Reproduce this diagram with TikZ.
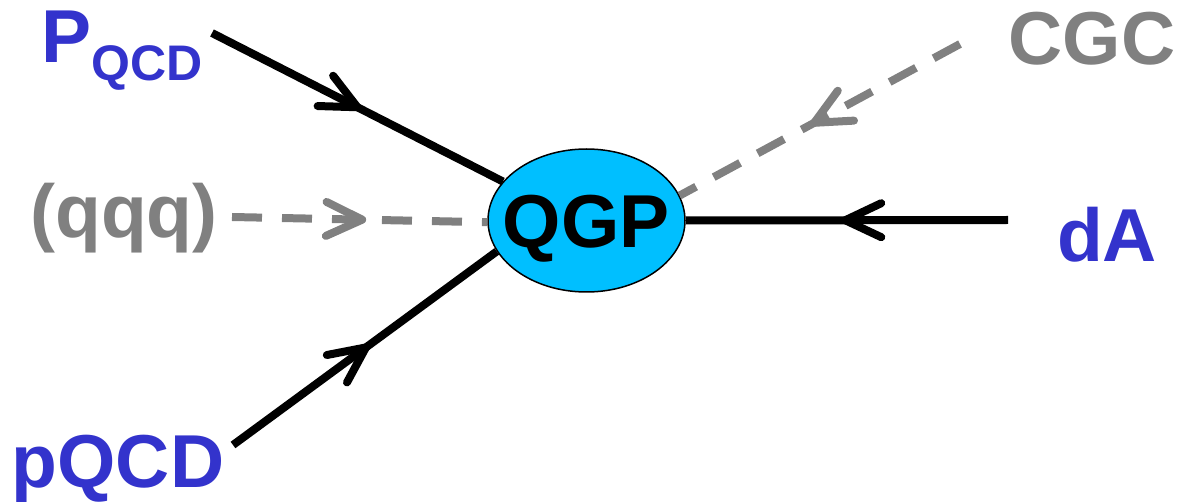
\documentclass[tikz,border=0pt]{standalone}
\usepackage{fontspec}
\setmainfont{Liberation Sans}
\usetikzlibrary{decorations.markings,shapes.geometric}
\definecolor{qblue}{RGB}{51,51,204}
\definecolor{qgray}{RGB}{128,128,128}
\definecolor{qfill}{RGB}{0,191,255}
\begin{document}
\begin{tikzpicture}[x=1pt,y=-1pt,
  lbl/.style={font=\fontsize{75}{80}\selectfont\bfseries, inner sep=0pt, anchor=base},
  conn/.style={line width=8pt},
  dashconn/.style={conn, qgray, dash pattern=on 30pt off 20pt},
  barb/.style={postaction={decorate}, decoration={markings, mark=at position #1 with {\draw[solid, line cap=round, line join=round] (-36pt,17pt) -- (0pt,0pt) -- (-36pt,-17pt);}}}
]
\useasboundingbox (0,0) rectangle (1178,502);

\node[ellipse, draw=black, line width=1.5pt, fill=qfill, minimum width=197pt, minimum height=143pt, inner sep=0pt] (qgp) at (586.5,220.5) {};
\node[lbl] (qgptext) at (586,248) {QGP};

\coordinate (sP) at (212,33);
\coordinate (sC) at (960,44);
\coordinate (sQ) at (232,217);
\coordinate (sD) at (1008,220);
\coordinate (sp) at (233,445);

\draw[conn, barb=0.5] (sP) -- (qgp.155.5);
\draw[conn, barb=0.504] (sp) -- (qgp.199.6);
\draw[conn, barb=0.505] (sD) -- (qgp.east);
\draw[dashconn, barb=0.51] (sQ) -- (qgp.181);
\draw[dashconn, barb=0.52] (sC) -- (qgp.15.5);

\node[lbl, anchor=base west, text=qblue] (pqcdtop) at (41,63) {P\raisebox{-18pt}{\fontsize{50}{55}\selectfont QCD}};
\node[lbl, text=qgray] (cgc) at (1092,65) {CGC};
\node[lbl, text=qgray] (qqq) at (124,238) {(qqq)};
\node[lbl, text=qblue] (da) at (1107,262) {dA};
\node[lbl, text=qblue] (pqcd) at (118,487) {pQCD};
\end{tikzpicture}
\end{document}
